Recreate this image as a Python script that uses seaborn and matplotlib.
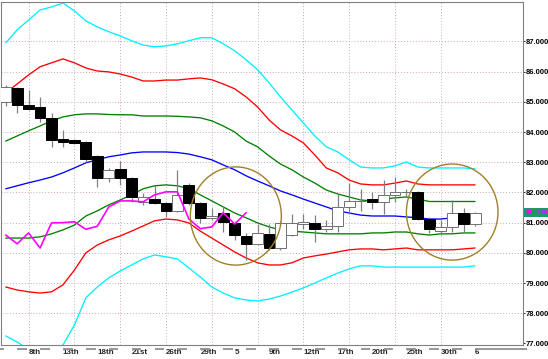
import numpy as np
import pandas as pd
import matplotlib
matplotlib.use("Agg")
import matplotlib.pyplot as plt
import matplotlib.transforms as mtransforms
from matplotlib.patches import Ellipse
import seaborn as sns

# daily candles
opens = [85.00, 85.46, 84.90, 84.83, 84.47, 83.77, 83.74, 83.67, 83.21, 82.47,
         82.77, 82.47, 81.69, 81.78, 81.65, 81.39, 82.25, 81.65, 81.15, 81.32,
         80.99, 80.56, 80.30, 80.62, 80.16, 80.60, 80.95, 81.00, 80.78, 80.88,
         81.52, 81.72, 81.78, 81.70, 81.92, 82.00, 82.03, 81.12, 80.72, 80.86,
         81.33, 80.95]
highs = [85.55, 85.49, 85.39, 85.16, 84.63, 84.07, 83.78, 83.70, 83.25, 82.80,
         83.04, 82.50, 81.98, 82.25, 81.70, 82.74, 82.30, 81.70, 81.50, 81.55,
         81.05, 80.66, 80.95, 80.95, 81.05, 81.30, 81.30, 81.25, 81.10, 81.95,
         82.30, 82.10, 82.00, 82.40, 82.50, 82.10, 82.05, 81.20, 81.10, 81.75,
         81.48, 81.35]
lows = [84.86, 84.63, 84.72, 84.33, 83.50, 83.50, 83.60, 83.02, 82.18, 82.34,
        82.25, 81.70, 81.58, 81.62, 81.18, 81.35, 81.60, 81.00, 81.10, 80.68,
        80.42, 79.76, 80.25, 80.10, 80.10, 80.55, 80.80, 80.35, 80.70, 80.70,
        81.30, 81.40, 81.45, 81.30, 81.70, 81.85, 81.10, 80.66, 80.60, 80.68,
        80.68, 80.90]
closes = [85.49, 84.90, 84.76, 84.47, 83.74, 83.67, 83.64, 83.11, 82.48, 82.74,
          82.47, 81.85, 81.85, 81.65, 81.39, 81.91, 81.65, 81.15, 81.22, 81.02,
          80.59, 80.30, 80.66, 80.16, 80.99, 81.00, 81.03, 80.78, 80.88, 81.52,
          81.72, 81.72, 81.69, 81.92, 82.02, 82.02, 81.12, 80.80, 80.86, 81.33,
          80.95, 81.33]

# bands
upper3 = [86.95, 87.38, 87.71, 88.04, 88.14, 88.27, 88.01, 87.68, 87.48, 87.32,
          87.18, 87.02, 86.88, 86.82, 86.85, 86.92, 87.02, 87.12, 87.12, 86.92,
          86.69, 86.39, 86.06, 85.63, 85.16, 84.73, 84.30, 83.87, 83.51, 83.34,
          83.08, 82.84, 82.81, 82.81, 82.88, 83.01, 82.84, 82.81, 82.81, 82.81,
          82.81, 82.78]
upper2 = [85.30, 85.59, 85.89, 86.16, 86.29, 86.42, 86.29, 86.12, 86.02, 85.99,
          85.92, 85.82, 85.69, 85.69, 85.72, 85.72, 85.76, 85.79, 85.73, 85.59,
          85.43, 85.16, 84.83, 84.40, 84.07, 83.87, 83.64, 83.24, 82.81, 82.65,
          82.41, 82.28, 82.25, 82.25, 82.31, 82.38, 82.28, 82.25, 82.25, 82.25,
          82.25, 82.25]
upper1 = [83.70, 83.87, 84.04, 84.20, 84.37, 84.50, 84.57, 84.60, 84.60, 84.58,
          84.57, 84.57, 84.53, 84.53, 84.53, 84.52, 84.50, 84.47, 84.37, 84.20,
          84.00, 83.70, 83.51, 83.21, 82.94, 82.75, 82.51, 82.31, 82.08, 81.95,
          81.85, 81.75, 81.72, 81.78, 81.82, 81.85, 81.78, 81.70, 81.70, 81.70,
          81.70, 81.70]
middle = [82.12, 82.22, 82.32, 82.41, 82.51, 82.65, 82.81, 82.98, 83.08, 83.18,
          83.24, 83.31, 83.34, 83.34, 83.34, 83.32, 83.27, 83.18, 83.08, 82.91,
          82.75, 82.55, 82.38, 82.22, 82.05, 81.92, 81.78, 81.65, 81.52, 81.39,
          81.32, 81.25, 81.22, 81.22, 81.22, 81.19, 81.16, 81.12, 81.12, 81.16,
          81.16, 81.16]
lower1 = [80.49, 80.49, 80.49, 80.53, 80.63, 80.76, 80.92, 81.22, 81.39, 81.59,
          81.75, 81.92, 82.12, 82.22, 82.25, 82.22, 82.12, 81.92, 81.72, 81.52,
          81.32, 81.16, 80.99, 80.86, 80.76, 80.72, 80.69, 80.66, 80.63, 80.63,
          80.63, 80.63, 80.66, 80.66, 80.69, 80.69, 80.63, 80.59, 80.63, 80.63,
          80.66, 80.66]
lower2 = [78.87, 78.77, 78.71, 78.67, 78.71, 78.94, 79.43, 80.00, 80.26, 80.43,
          80.56, 80.72, 80.89, 81.06, 81.12, 81.09, 80.99, 80.72, 80.49, 80.26,
          80.03, 79.83, 79.67, 79.60, 79.60, 79.67, 79.83, 79.90, 79.96, 80.03,
          80.10, 80.13, 80.13, 80.10, 80.13, 80.16, 80.10, 80.10, 80.10, 80.10,
          80.13, 80.16]
lower3 = [77.25, 77.05, 76.80, 76.60, 76.70, 76.95, 77.61, 78.51, 78.87, 79.17,
          79.40, 79.60, 79.80, 79.93, 79.87, 79.80, 79.50, 79.20, 78.87, 78.67,
          78.51, 78.44, 78.41, 78.47, 78.57, 78.70, 78.84, 79.00, 79.17, 79.33,
          79.47, 79.57, 79.57, 79.53, 79.53, 79.53, 79.53, 79.53, 79.53, 79.53,
          79.53, 79.57]

lag_shift = 20   # lagging line = close plotted 20 bars back
date_labels = ["8th", "13th", "18th", "21st", "26th", "29th", "5", "9th",
               "12th", "17th", "20th", "25th", "30th", "6"]
label_bars = [2, 5, 8, 11, 14, 17, 20, 23, 26, 29, 32, 35, 38, 41]
price_ticks = [77, 78, 79, 80, 81, 82, 83, 84, 85, 86, 87]
# circled areas: (centre bar, centre price, width in bars, height in price)
circles = [(20.1, 81.22, 7.95, 3.25), (39.0, 81.35, 8.0, 3.18)]

sns.set_style("white")
plt.rcParams['font.family'] = ['Liberation Sans', 'DejaVu Sans']

fig = plt.figure(figsize=(5.48, 3.59), dpi=100)
ax = fig.add_axes([0.0027, 0.039, 0.9516, 0.9568])

idx = np.arange(len(closes))

# grid
for p in price_ticks[1:]:
    ax.axhline(p, color='#c8a8b8', lw=0.7, ls=(0, (1, 2)), zorder=0)
for b in range(2, 39, 4):
    ax.axvline(b, color='#a8c0c8' if b % 8 == 6 else '#c8a8b8', lw=0.7,
               ls=(0, (1, 2)), zorder=0)

# bands
names = ['up3', 'up2', 'up1', 'mid', 'dn1', 'dn2', 'dn3']
series = [upper3, upper2, upper1, middle, lower1, lower2, lower3]
bands = pd.concat([pd.DataFrame({'bar': idx, 'price': s, 'band': n})
                   for n, s in zip(names, series)])
palette = {'up3': '#00f0ff', 'up2': '#ff0000', 'up1': '#008000', 'mid': '#0000ff',
           'dn1': '#008000', 'dn2': '#ff0000', 'dn3': '#00f0ff'}
sns.lineplot(data=bands, x='bar', y='price', hue='band', palette=palette,
             legend=False, lw=0.95, ax=ax, zorder=2, sort=False)

# candles
o = np.array(opens); c = np.array(closes)
up = c >= o
ax.vlines(idx, lows, highs, color='#808080', lw=0.9, zorder=3)
bottoms = np.minimum(o, c)
heights = np.maximum(np.abs(c - o), 0.01)
ax.bar(idx, heights, bottom=bottoms, width=0.95,
       color=np.where(up, 'white', 'black'),
       edgecolor=np.where(up, '#707070', 'black'), linewidth=0.7, zorder=4)

# lagging line
lag = pd.DataFrame({'bar': idx[:len(closes) - lag_shift], 'price': closes[lag_shift:]})
sns.lineplot(data=lag, x='bar', y='price', color='#ff00ff', lw=1.2, ax=ax, zorder=5)

for cx, cy, w, h in circles:
    ax.add_patch(Ellipse((cx, cy), w, h, fill=False, edgecolor='#a08028',
                         lw=1.0, zorder=6))

ax.set_xlim(-0.37, 45.18)
ax.set_ylim(76.95, 88.32)
ax.set_xlabel('')
ax.set_ylabel('')

ax.yaxis.tick_right()
ax.set_yticks(price_ticks)
ax.set_yticklabels([f"{p:.3f}" for p in price_ticks])
ax.tick_params(axis='y', right=True, length=1.5, width=0.6, pad=0.5,
               labelsize=5.5, colors='black')
ax.set_xticks(label_bars)
ax.set_xticklabels(date_labels, ha='left')
ax.tick_params(axis='x', bottom=False, length=0, pad=3, labelsize=5.8)
for t in ax.get_xticklabels() + ax.get_yticklabels():
    t.set_fontweight('bold')

for s in ax.spines.values():
    s.set_color('#808080')
    s.set_linewidth(0.8)

# little separators under the time axis
trans = mtransforms.blended_transform_factory(ax.transData, ax.transAxes)
for b in range(-1, 41, 2):
    ax.plot([b, b + 0.85], [-0.012, -0.012], transform=trans, clip_on=False,
            color='#909090', lw=1.3, solid_capstyle='butt')
ax.plot([41, 45.5], [-0.012, -0.012], transform=trans, clip_on=False,
        color='#909090', lw=1.3, solid_capstyle='butt')

# current price tag
ytrans = mtransforms.blended_transform_factory(ax.transAxes, ax.transData)
ax.text(1.004, closes[-1], f"{closes[-1]:.3f}", transform=ytrans,
        color='#ff00ff', fontsize=5.5, fontweight='bold', va='center', ha='left',
        bbox=dict(facecolor='#1a9a6a', edgecolor='none', pad=0.8), clip_on=False)

fig.savefig('out.png', dpi=100)
